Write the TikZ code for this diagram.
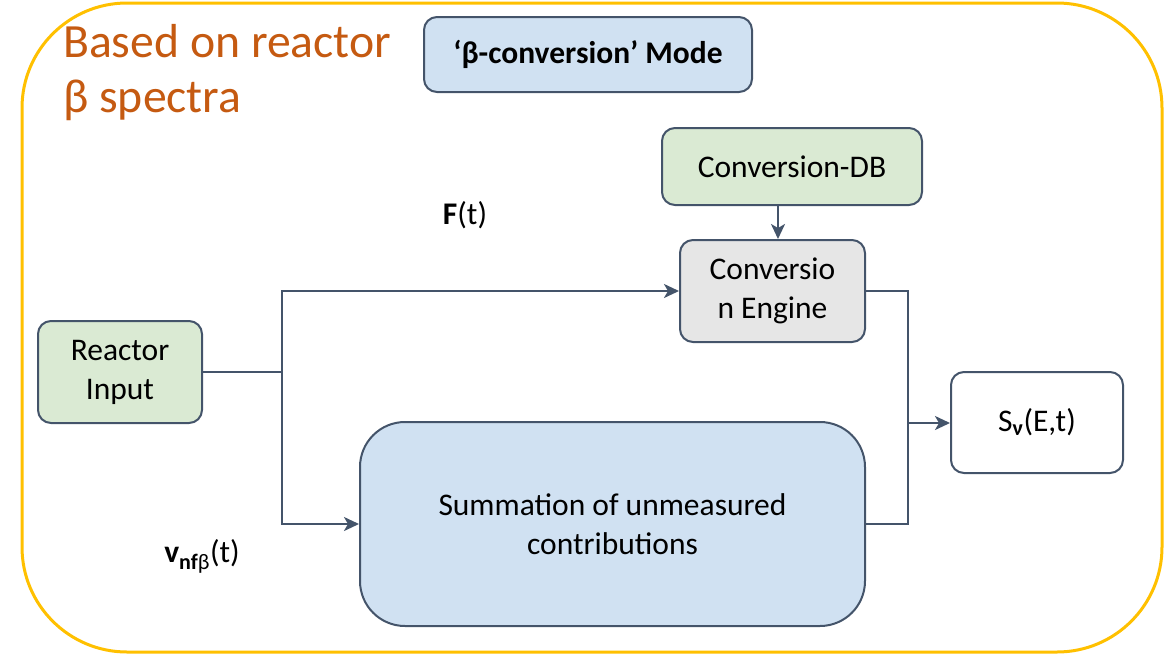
\documentclass[tikz,border=0pt]{standalone}
\usepackage{fontspec}
\setmainfont{Carlito}
\usetikzlibrary{arrows.meta}
\definecolor{edge}{RGB}{68,84,106}
\definecolor{bluefill}{RGB}{208,225,242}
\definecolor{greenfill}{RGB}{218,234,211}
\definecolor{greyfill}{RGB}{230,230,230}
\definecolor{gold}{RGB}{255,192,0}
\definecolor{rust}{RGB}{197,90,17}
\tikzset{
  box/.style={draw=edge, line width=2pt, rounded corners=13pt, align=center,
    font=\fontsize{31.5}{39}\selectfont, inner sep=2pt},
  conn/.style={draw=edge, line width=2.2pt},
  arr/.style={conn, -{Stealth[length=15pt,width=14pt,inset=4pt]}},
  lbl/.style={font=\fontsize{31.5}{36}\selectfont, inner sep=0pt}
}
\begin{document}
\begin{tikzpicture}[x=1pt,y=-1pt]
\useasboundingbox (0,0) rectangle (1173,654);
\begin{scope}
\clip (0,0) rectangle (1173,654);
\draw[gold, line width=3pt, rounded corners=105pt] (22,3) rectangle (1162,652);
\end{scope}
\node[font=\fontsize{47.7}{55}\selectfont, text=rust, align=left, anchor=north west, inner sep=0pt] (title) at (63,24) {Based on reactor\\β spectra};
\node[box, fill=bluefill, minimum width=328pt, minimum height=75pt, font=\fontsize{31.5}{37}\selectfont\bfseries] (mode) at (588,54.5) {‘β-conversion’ Mode};
\node[box, fill=greenfill, minimum width=260pt, minimum height=77pt] (db) at (792,166.5) {Conversion-DB};
\node[box, fill=greyfill, minimum width=185pt, minimum height=102pt] (eng) at (772.5,291) {Conversio\\n Engine};
\node[box, fill=greenfill, minimum width=164pt, minimum height=102pt] (reac) at (120,372) {Reactor\\Input};
\node[box, fill=bluefill, rounded corners=45pt, minimum width=505pt, minimum height=204pt] (sum) at (612.5,524) {Summation of unmeasured\\contributions};
\node[box, fill=white, minimum width=172pt, minimum height=101pt] (out) at (1037,422.5) {S\textsubscript{\textbf{ν}}(E,t)};
\node[lbl] (F) at (465,215) {\textbf{F}(t)};
\node[lbl] (v) at (202,556) {\textbf{v}\textsubscript{\textbf{nf}β}(t)};
\coordinate (split) at (282,372);
\coordinate (join) at (908,423);
\draw[conn] (reac.east) -- (split);
\draw[arr] (split) |- (eng.west);
\draw[arr] (split) |- (sum.west);
\draw[arr] (db.south -| 778,0) -- (eng.north -| 778,0);
\draw[conn] (eng.east) -| (join);
\draw[conn] (sum.east) -| (join);
\draw[arr] (join) -- (join -| out.west);
\end{tikzpicture}
\end{document}
